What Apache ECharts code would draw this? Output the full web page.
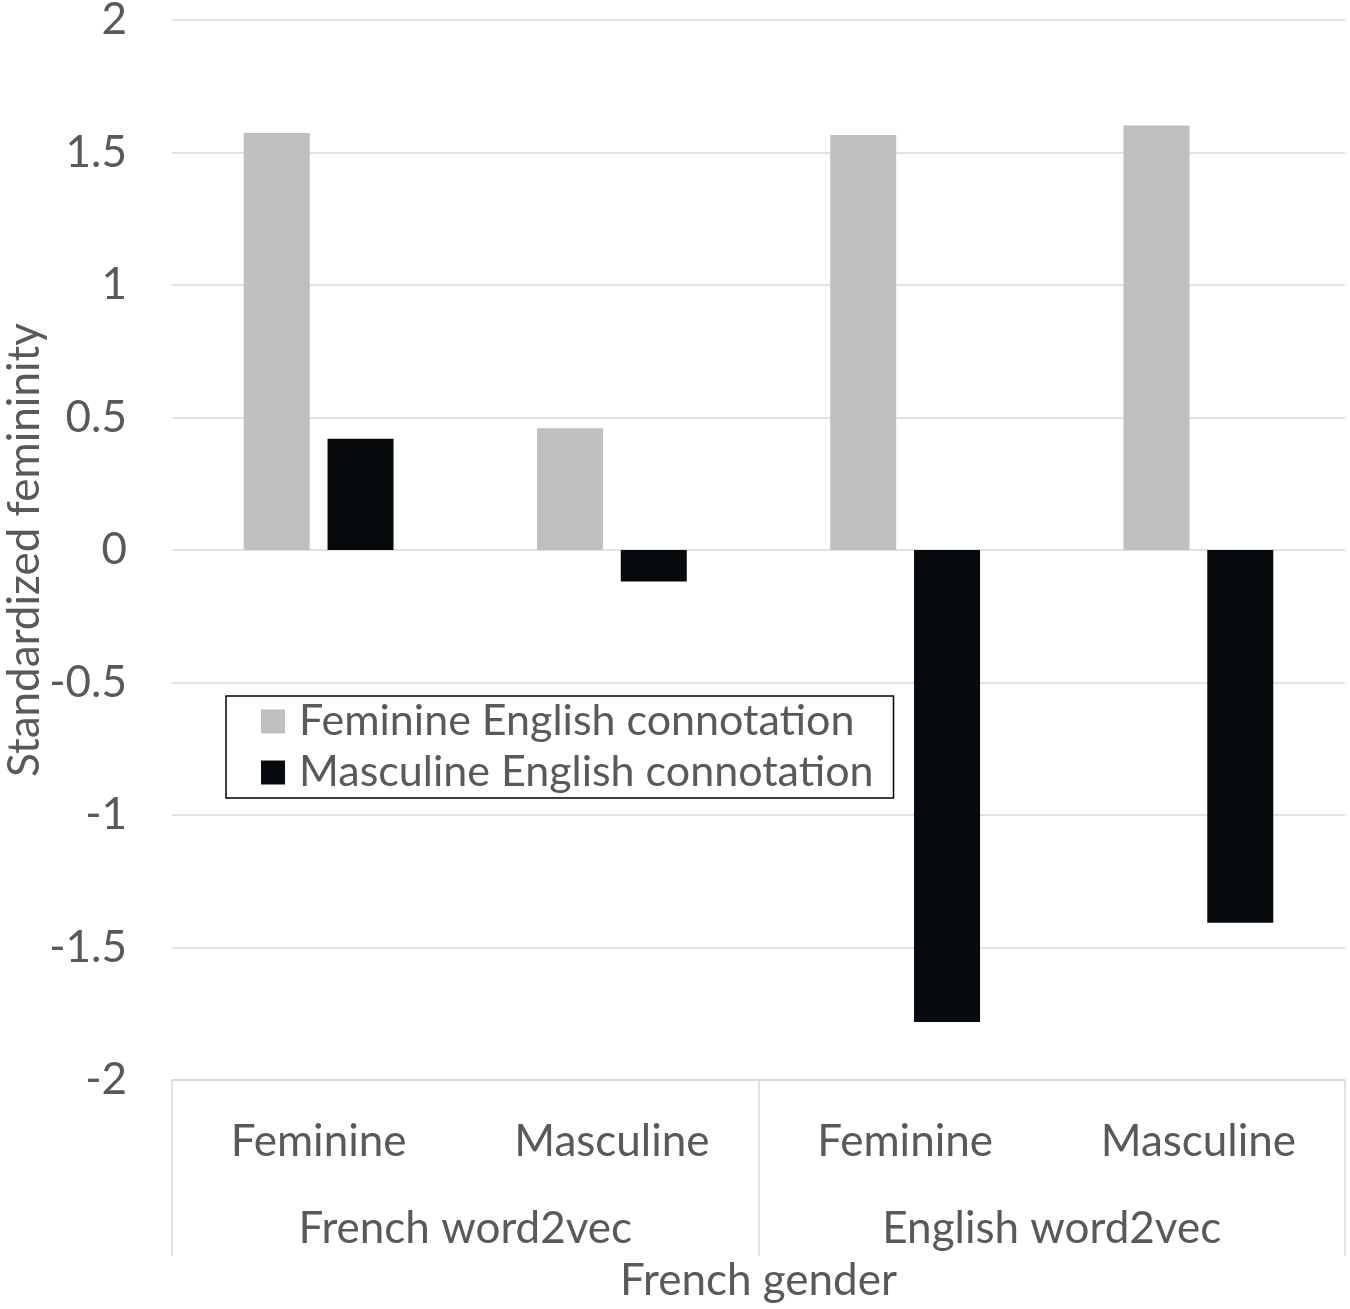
<!DOCTYPE html>
<html>
<head>
<meta charset="utf-8">
<script src="https://cdn.jsdelivr.net/npm/echarts@6/dist/echarts.min.js"></script>
<style>
  html, body { margin: 0; padding: 0; background: #fff; }
  #chart { width: 1350px; height: 1309px; }
</style>
</head>
<body>
<div id="chart"></div>
<script>
// data
const categories = ['Feminine', 'Masculine', 'Feminine', 'Masculine']
const groups = ['French word2vec', 'English word2vec']
const feminineConn = [1.574, 0.459, 1.566, 1.602]
const masculineConn = [0.42, -0.119, -1.781, -1.407]

const textColor = '#595959'
const fontFamily = 'Lato, "Open Sans", sans-serif'
const gridColor = '#d9d9d9'

const chart = echarts.init(document.getElementById('chart'))

const option = {
  animation: false,
  textStyle: { fontFamily: fontFamily, color: textColor },
  grid: { left: 172, right: 5, top: 20, bottom: 229, outerBoundsMode: 'none', containLabel: false },
  legend: {
    orient: 'vertical',
    left: 226,
    top: 696,
    padding: [4, 20, 4, 35],
    itemWidth: 24,
    itemHeight: 24,
    itemGap: 8,
    borderColor: '#000',
    borderWidth: 1.5,
    backgroundColor: '#fff',
    icon: 'rect',
    textStyle: { fontSize: 43, color: textColor, fontFamily: fontFamily, padding: [0, 0, 0, 9] },
    data: ['Feminine English connotation', 'Masculine English connotation']
  },
  xAxis: [
    {
      type: 'category',
      data: categories,
      position: 'bottom',
      axisLine: { show: false },
      axisTick: { show: false },
      axisLabel: { color: textColor, fontSize: 44, margin: 40, fontFamily: fontFamily }
    },
    {
      type: 'category',
      data: groups,
      position: 'bottom',
      axisLine: { show: true, lineStyle: { color: gridColor, width: 1.5 } },
      axisTick: { show: true, length: 176, lineStyle: { color: gridColor, width: 1.5 } },
      axisLabel: { color: textColor, fontSize: 44, margin: 127, fontFamily: fontFamily },
      name: 'French gender',
      nameLocation: 'middle',
      nameGap: 179,
      nameMoveOverlap: false,
      nameTextStyle: { color: textColor, fontSize: 44, fontFamily: fontFamily }
    }
  ],
  yAxis: {
    type: 'value',
    min: -2,
    max: 2,
    interval: 0.5,
    name: 'Standardized femininity',
    nameLocation: 'middle',
    nameGap: 125,
    nameMoveOverlap: false,
    nameTextStyle: { color: textColor, fontSize: 44, fontFamily: fontFamily },
    axisLine: { show: false },
    axisTick: { show: false },
    axisLabel: { color: textColor, fontSize: 44, margin: 45, fontFamily: fontFamily },
    splitLine: { lineStyle: { color: gridColor, width: 1.5 } }
  },
  series: [
    {
      name: 'Feminine English connotation',
      type: 'bar',
      xAxisIndex: 0,
      data: feminineConn,
      barWidth: 66,
      barGap: '27%',
      itemStyle: { color: '#bfbfbf' }
    },
    {
      name: 'Masculine English connotation',
      type: 'bar',
      xAxisIndex: 0,
      data: masculineConn,
      barWidth: 66,
      barGap: '27%',
      itemStyle: { color: '#070a0c' }
    }
  ]
}

chart.setOption(option)
</script>
</body>
</html>
